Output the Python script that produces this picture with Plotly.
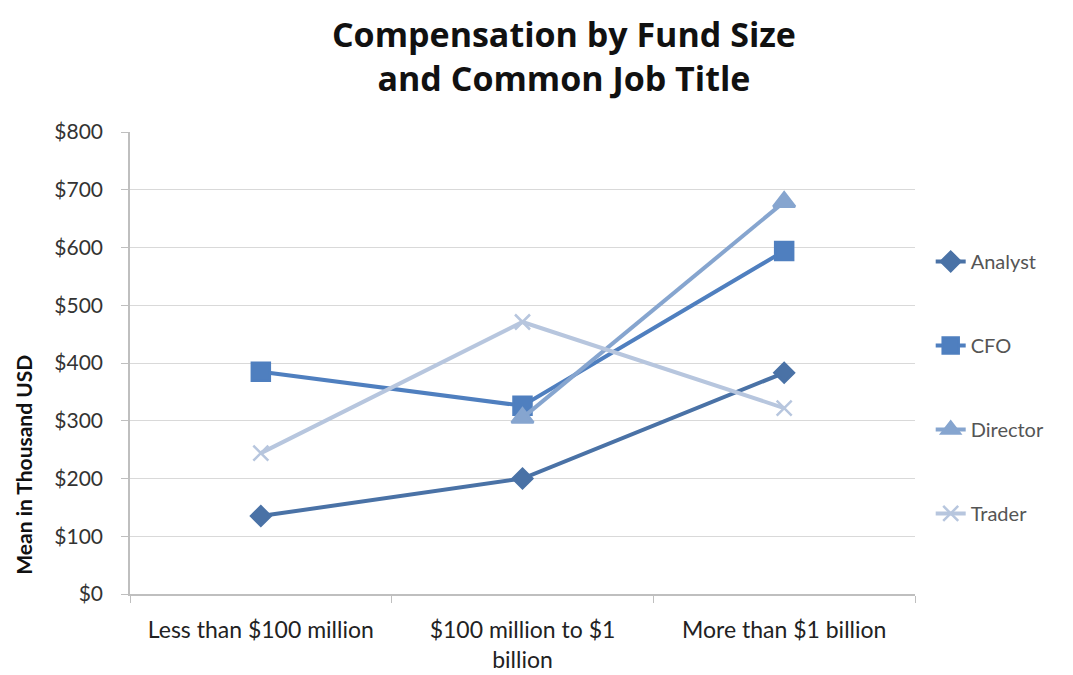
import plotly.graph_objects as go

categories = ["Less than $100 million", "$100 million to $1<br>billion", "More than $1 billion"]
series_names = ["Analyst", "CFO", "Director", "Trader"]
analyst = [135, 200, 383]
cfo = [385, 326, 594]
director = [None, 305, 679]
trader = [244, 471, 322]
y_ticks = [0, 100, 200, 300, 400, 500, 600, 700, 800]
y_tick_labels = ["$0", "$100", "$200", "$300", "$400", "$500", "$600", "$700", "$800"]

series = [analyst, cfo, director, trader]
colors = ["#4a72a6", "#4f7fbf", "#86a5cf", "#b7c6de"]
symbols = ["diamond", "square", "triangle-up", "x-thin"]
sizes = [15, 18, 19, 15]

fig = go.Figure()
for name, vals, c, s, sz in zip(series_names, series, colors, symbols, sizes):
    fig.add_trace(go.Scatter(
        x=categories, y=vals, name=name, mode="lines+markers",
        line=dict(color=c, width=4),
        marker=dict(symbol=s, size=sz, color=c, line=dict(color=c, width=2.5)),
        legendgroup=name, connectgaps=False,
    ))

fig.add_annotation(
    text="<b>Mean in Thousand USD</b>", textangle=-90,
    xref="paper", yref="paper", x=-0.135, y=0.28,
    xanchor="center", yanchor="middle", showarrow=False,
    font=dict(size=21, color="#111", family="Lato, Open Sans, sans-serif"),
)

fig.update_layout(
    width=1065, height=667,
    paper_bgcolor="white", plot_bgcolor="white",
    margin=dict(l=122, r=158, t=124, b=81, autoexpand=False),
    font=dict(family="Lato, Open Sans, sans-serif", color="#222"),
    title=dict(text="<b>Compensation by Fund Size<br>and Common Job Title</b>",
               x=0.522, xanchor="center", y=0.942, yanchor="middle",
               font=dict(size=34, color="#111", family="Open Sans, Lato, sans-serif")),
    showlegend=True,
    legend=dict(x=1.02, xanchor="left", y=0.762, yanchor="top",
                font=dict(size=20, color="#555"), tracegroupgap=55,
                bgcolor="rgba(0,0,0,0)"),
    xaxis=dict(type="category", range=[-0.5, 2.5], tickson="boundaries",
               ticks="outside", ticklen=7, tickcolor="#bfbfbf",
               showline=True, linecolor="#bfbfbf", linewidth=1.5,
               showgrid=False, automargin=False, ticklabelstandoff=15,
               tickfont=dict(size=23, color="#222")),
    yaxis=dict(range=[0, 800], tickvals=y_ticks, ticktext=y_tick_labels,
               ticks="outside", ticklen=7, tickcolor="#bfbfbf",
               showline=True, linecolor="#bfbfbf", linewidth=1.5,
               showgrid=True, gridcolor="#d9d9d9", gridwidth=1.2,
               zeroline=False, automargin=False, ticklabelstandoff=14,
               tickfont=dict(size=21, color="#333")),
)

fig.write_html("out.html")
